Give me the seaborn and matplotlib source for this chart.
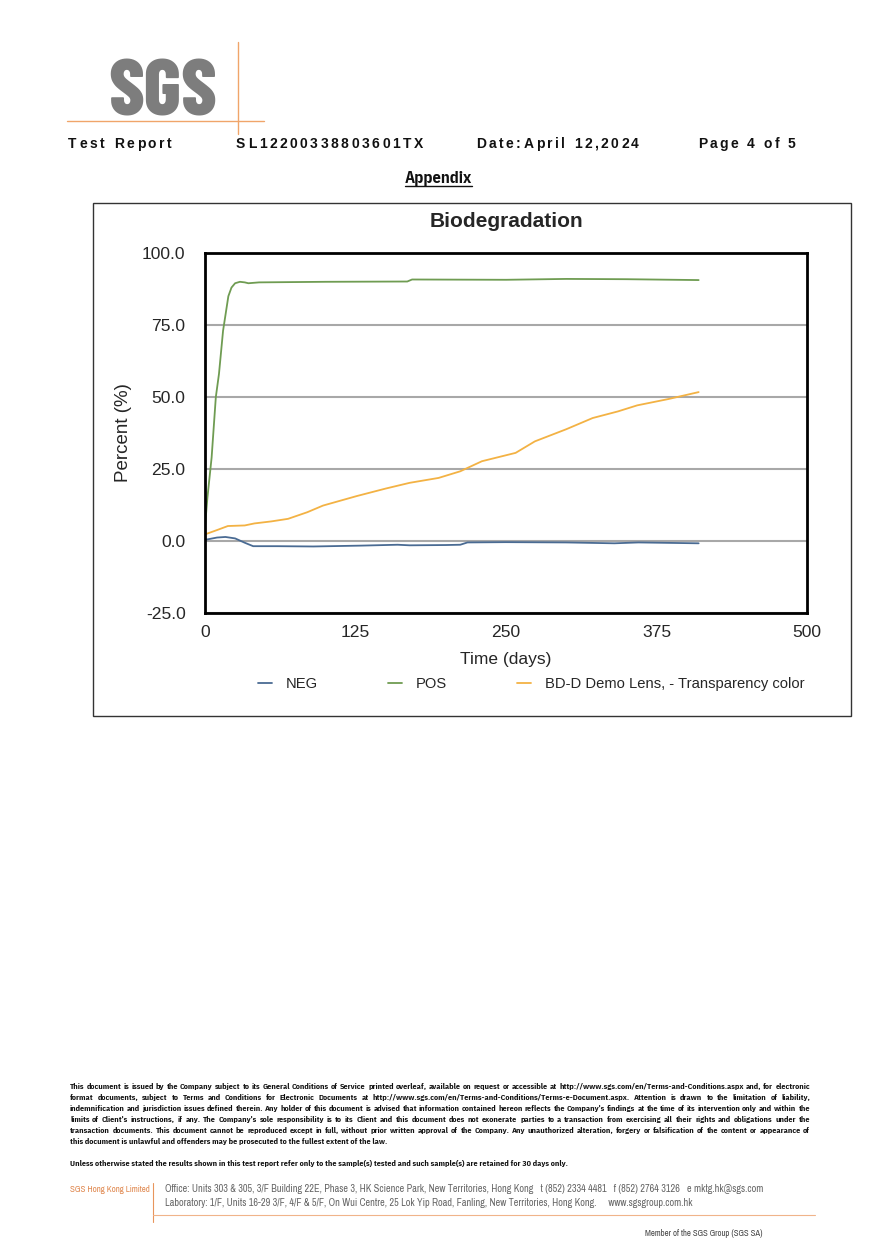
import numpy as np
import pandas as pd
import matplotlib
matplotlib.use('Agg')
import matplotlib.pyplot as plt
import seaborn as sns
from matplotlib import font_manager
from matplotlib.patches import Rectangle
from matplotlib.lines import Line2D
from matplotlib.font_manager import FontProperties

sns.set_style('white')
names = {f.name for f in font_manager.fontManager.ttflist}


def pick(*cands):
    for c in cands:
        if c in names:
            return c
    return 'DejaVu Sans'


SANS = pick('Liberation Sans', 'Arimo')
NARROW = pick('Liberation Sans Narrow', 'Arial Narrow', 'IBM Plex Sans Condensed', 'Fira Sans Condensed')
NARROW_GRAY = pick('Liberation Sans Narrow', 'Archivo Narrow', 'IBM Plex Sans Condensed')
LOGO = pick('Barlow Condensed', 'Fira Sans Extra Condensed', 'IBM Plex Sans Condensed')
plt.rcParams['font.family'] = [SANS, 'DejaVu Sans']

# ---- data ----
neg_days = [0, 5, 10, 17, 25, 33, 40, 60, 90, 130, 160, 170, 200, 212, 218, 250, 300, 340, 360, 410]
neg_vals = [0.4, 0.8, 1.2, 1.4, 0.9, -0.6, -1.8, -1.8, -1.9, -1.6, -1.3, -1.5, -1.4, -1.3, -0.5, -0.4, -0.5, -0.8, -0.5, -0.8]

pos_days = [0, 2, 5.5, 9, 11.6, 15, 19.4, 22, 25, 29, 33, 36, 45, 100, 168, 172, 250, 300, 350, 410]
pos_vals = [5, 15, 29, 50, 58, 73, 85, 88, 89.5, 90, 89.8, 89.5, 89.8, 90.0, 90.1, 90.8, 90.7, 91.0, 90.9, 90.6]

bd_days = [0, 10, 19, 33, 41, 55, 69, 85, 98, 126, 150, 170, 194, 212, 230, 258, 274, 300, 322, 343, 359, 385, 410]
bd_vals = [2.3, 3.8, 5.2, 5.4, 6.1, 6.8, 7.7, 10.0, 12.3, 15.6, 18.2, 20.2, 21.9, 24.2, 27.7, 30.6, 34.6, 38.8, 42.7, 45.0, 47.1, 49.3, 51.7]

series_names = ['NEG', 'POS', 'BD-D Demo Lens, - Transparency color']
series_colors = ['#4a6b93', '#6f9c52', '#f3b244']
y_ticks = [-25, 0, 25, 50, 75, 100]
x_ticks = [0, 125, 250, 375, 500]

df = pd.concat([
    pd.DataFrame({'day': neg_days, 'pct': neg_vals, 'series': series_names[0]}),
    pd.DataFrame({'day': pos_days, 'pct': pos_vals, 'series': series_names[1]}),
    pd.DataFrame({'day': bd_days, 'pct': bd_vals, 'series': series_names[2]}),
])

W, H = 880, 1245
fig = plt.figure(figsize=(8.8, 12.45), dpi=100)
renderer = fig.canvas.get_renderer()


def fx(px):
    return px / W


def fy(py):
    return 1 - py / H


def width_of(t):
    return t.get_window_extent(renderer).width


def fit_text(x, y, s, width, size0=8, **kw):
    # text sized so that it spans `width` pixels
    t = fig.text(fx(x), fy(y), s, fontsize=size0, **kw)
    t.set_fontsize(size0 * width / width_of(t))
    return t


def spaced_text(x, y, s, spacing, **kw):
    # letter-spaced text, one character at a time
    for ch in s:
        t = fig.text(fx(x), fy(y), ch, ha='left', **kw)
        x += width_of(t) + spacing


def justify(line, x0, x1, y, **kw):
    words = line.split(' ')
    texts = [fig.text(0, fy(y), w, ha='left', **kw) for w in words]
    widths = [width_of(t) for t in texts]
    gap = (x1 - x0 - sum(widths)) / (len(words) - 1)
    x = x0
    for t, w in zip(texts, widths):
        t.set_x(fx(x))
        x += w + gap


# ---- SGS logo ----
fit_text(108, 116, 'SGS', 109, size0=60, family=LOGO, weight=800, color='#7d7d7d',
         ha='left', va='baseline')
fig.add_artist(Line2D([fx(67), fx(264)], [fy(121), fy(121)], color='#f0a56a', lw=1))
fig.add_artist(Line2D([fx(238), fx(238)], [fy(42), fy(134)], color='#f0a56a', lw=1))

# ---- header ----
hdr = dict(family=SANS, weight='bold', fontsize=10, va='center', color='#111111')
spaced_text(68, 144, 'Test Report', 2.65, **hdr)
spaced_text(236, 144, 'SL12200338803601TX', 2.55, **hdr)
spaced_text(476, 144, 'Date:April 12,2024', 2.5, **hdr)
spaced_text(698, 144, 'Page 4 of 5', 2.4, **hdr)

fit_text(405, 178, 'Appendix', 67, size0=10, family=NARROW, weight='bold', ha='left',
         va='center', color='#111111')
fig.add_artist(Line2D([fx(405), fx(472)], [fy(186), fy(186)], color='#111111', lw=1))

# ---- chart ----
fig.add_artist(Rectangle((fx(93), fy(716)), (851 - 93) / W, (716 - 203) / H,
                         transform=fig.transFigure, fill=False, ec='#333333', lw=1))

ax = fig.add_axes([fx(205), fy(613), (807 - 205) / W, (613 - 253) / H])
sns.lineplot(data=df, x='day', y='pct', hue='series', hue_order=series_names,
             palette=series_colors, linewidth=1.3, ax=ax)
ax.set_xlim(0, 500)
ax.set_ylim(-25, 100)
ax.set_yticks(y_ticks)
ax.set_yticklabels(['%.1f' % t for t in y_ticks], fontsize=12.6)
ax.set_xticks(x_ticks)
ax.set_xticklabels([str(t) for t in x_ticks], fontsize=12.6)
ax.tick_params(length=0)
ax.tick_params(axis='y', pad=14)
ax.tick_params(axis='x', pad=9)
ax.yaxis.grid(True, color='#a8a8a8', lw=1.5)
ax.xaxis.grid(False)
ax.set_axisbelow(True)
for s in ax.spines.values():
    s.set_color('black')
    s.set_linewidth(2)
ax.set_xlabel('Time (days)', fontsize=12.5, labelpad=8)
ax.set_ylabel('Percent (%)', fontsize=13.5, labelpad=7)
fig.text(fx(506), fy(222), 'Biodegradation', weight='bold', fontsize=15, ha='center', va='center')
ax.legend(loc='center', bbox_to_anchor=(0.542, -0.197), ncol=3, frameon=False,
          handlelength=0.95, handletextpad=0.9, columnspacing=4.8,
          prop=FontProperties(family=SANS, size=10.6))

# ---- footer ----
foot = dict(family=NARROW, weight='bold', color='#111111', va='baseline')
last = fit_text(70, 1166, "Unless otherwise stated the results shown in this test report refer only to the sample(s) tested and such sample(s) are retained for 30 days only.",
                505, size0=6, ha='left', **foot)
fs = last.get_fontsize()
lines = [
    "This document is issued by the Company subject to its General Conditions of Service printed overleaf, available on request or accessible at http://www.sgs.com/en/Terms-and-Conditions.aspx and, for electronic",
    "format documents, subject to Terms and Conditions for Electronic Documents at http://www.sgs.com/en/Terms-and-Conditions/Terms-e-Document.aspx. Attention is drawn to the limitation of liability,",
    "indemnification and jurisdiction issues defined therein. Any holder of this document is advised that information contained hereon reflects the Company's findings at the time of its intervention only and within the",
    "limits of Client's instructions, if any. The Company's sole responsibility is to its Client and this document does not exonerate parties to a transaction from exercising all their rights and obligations under the",
    "transaction documents. This document cannot be reproduced except in full, without prior written approval of the Company. Any unauthorized alteration, forgery or falsification of the content or appearance of",
]
for i, ln in enumerate(lines):
    justify(ln, 70, 810, 1089 + i * 11, fontsize=fs, **foot)
fig.text(fx(70), fy(1144), "this document is unlawful and offenders may be prosecuted to the fullest extent of the law.",
         fontsize=fs, **foot)

fit_text(70, 1190, 'SGS Hong Kong Limited', 80, size0=6.5, family=NARROW_GRAY, color='#e0884f',
         ha='left', va='center')
fig.add_artist(Line2D([fx(153), fx(153)], [fy(1183), fy(1222)], color='#e8955c', lw=0.8))
fig.add_artist(Line2D([fx(153), fx(815)], [fy(1215), fy(1215)], color='#f0b48a', lw=0.8))
addr = dict(family=NARROW_GRAY, color='#666666', ha='left', va='center')
office = fit_text(165, 1189, 'Office: Units 303 & 305, 3/F Building 22E, Phase 3, HK Science Park, New Territories, Hong Kong   '
                  't (852) 2334 4481   f (852) 2764 3126   e mktg.hk@sgs.com', 598, size0=7, **addr)
fig.text(fx(165), fy(1203), 'Laboratory: 1/F, Units 16-29 3/F, 4/F & 5/F, On Wui Centre, 25 Lok Yip Road, Fanling, '
         'New Territories, Hong Kong.     www.sgsgroup.com.hk', fontsize=office.get_fontsize(), **addr)
fit_text(645, 1233, 'Member of the SGS Group (SGS SA)', 118, size0=6, family=NARROW_GRAY,
         color='#444444', ha='left', va='center')

fig.savefig('out.png', dpi=100, facecolor='white')
